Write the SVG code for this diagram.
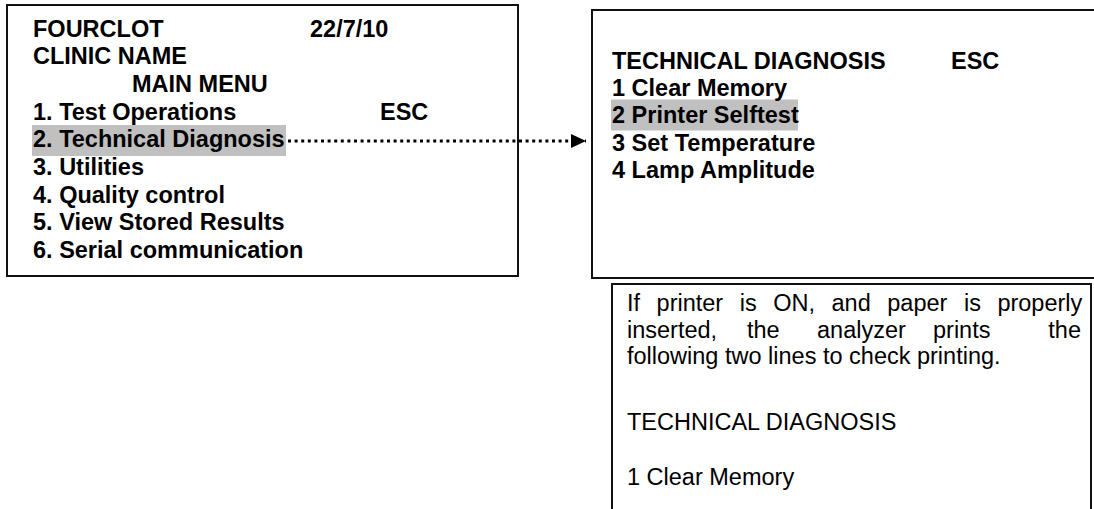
<svg xmlns="http://www.w3.org/2000/svg" width="1094" height="509" viewBox="0 0 1094 509">
<style>
.box{fill:#fff;stroke:#111;stroke-width:2}
.b{font-family:"Liberation Sans",Arial,sans-serif;font-weight:bold;font-size:23.5px;fill:#000}
.r{font-family:"Liberation Sans",Arial,sans-serif;font-size:23.5px;fill:#000}
.hl{fill:#c0c0c0}
.conn{stroke:#000;stroke-width:3;stroke-dasharray:3 3.6;fill:none}
</style>
<defs>
<marker id="ah" markerWidth="15" markerHeight="14" refX="15" refY="7" orient="auto" markerUnits="userSpaceOnUse">
<polygon points="0,0 15,7 0,14" fill="#000"/>
</marker>
</defs>
<rect width="1094" height="509" fill="#fff"/>
<g id="main-menu">
<rect class="box" x="7" y="5" width="511" height="271"/>
<rect class="hl" x="32" y="125" width="254" height="31"/>
<text class="b" x="33" y="36.5">FOURCLOT</text>
<text class="b" x="310" y="36.5">22/7/10</text>
<text class="b" x="33" y="64.2">CLINIC NAME</text>
<text class="b" x="132" y="91.9">MAIN MENU</text>
<text class="b" x="33" y="119.6">1. Test Operations</text>
<text class="b" x="380" y="119.6">ESC</text>
<text class="b" x="33" y="147.3">2. Technical Diagnosis</text>
<text class="b" x="33" y="175">3. Utilities</text>
<text class="b" x="33" y="202.7">4. Quality control</text>
<text class="b" x="33" y="230.4">5. View Stored Results</text>
<text class="b" x="33" y="258.1">6. Serial communication</text>
</g>
<g id="tech-diag">
<rect class="box" x="592" y="10" width="520" height="268"/>
<rect class="hl" x="611" y="99.5" width="187" height="31"/>
<text class="b" x="612" y="68.5">TECHNICAL DIAGNOSIS</text>
<text class="b" x="951" y="68.5">ESC</text>
<text class="b" x="612" y="96">1 Clear Memory</text>
<text class="b" x="612" y="123">2 Printer Selftest</text>
<text class="b" x="612" y="150.5">3 Set Temperature</text>
<text class="b" x="612" y="178">4 Lamp Amplitude</text>
</g>
<g id="note">
<path class="box" d="M612,520 V284 H1091 V520"/>
<text class="r" x="627" y="311" word-spacing="10">If printer is ON, and paper is properly</text>
<text class="r" x="627" y="337.5">inserted,</text>
<text class="r" x="747" y="337.5">the</text>
<text class="r" x="817" y="337.5">analyzer</text>
<text class="r" x="933" y="337.5">prints</text>
<text class="r" x="1081" y="337.5" text-anchor="end">the</text>
<text class="r" x="627" y="364">following two lines to check printing.</text>
<text class="r" x="627" y="430">TECHNICAL DIAGNOSIS</text>
<text class="r" x="627" y="485">1 Clear Memory</text>
</g>
<g id="connectors">
<line class="conn" x1="288" y1="141" x2="586" y2="141" marker-end="url(#ah)"/>
</g>
</svg>
